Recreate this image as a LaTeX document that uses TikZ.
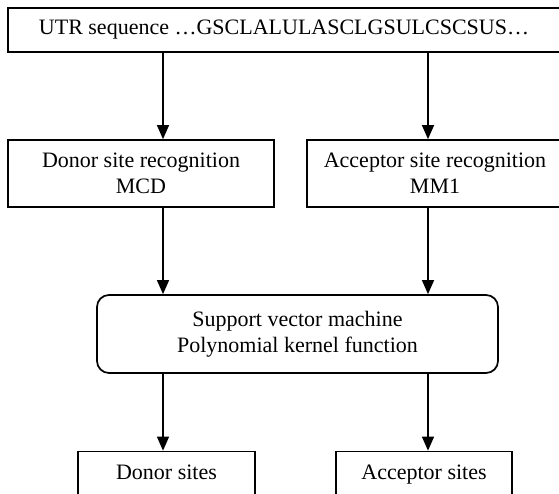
\documentclass[tikz,border=0pt]{standalone}
\usepackage{fontspec}
\setmainfont{Liberation Serif}
\usetikzlibrary{arrows.meta}
\begin{document}
\begin{tikzpicture}[x=1pt,y=1pt,
  box/.style={draw=black, line width=1.7pt, fill=white, inner sep=0pt,
    align=center, font=\fontsize{22}{26}\selectfont},
  roundbox/.style={box, rounded corners=12pt},
  outbox/.style={box, text height=15pt, text depth=5pt},
  flow/.style={draw=black, line width=1.3pt, -{Triangle[length=14pt,width=12pt]}}]
\useasboundingbox (0,0) rectangle (559,494);
\clip (0,0) rectangle (559,494);
\fill[white] (0,0) rectangle (559,494);

% input sequence
\node[box, minimum width=552pt, minimum height=44pt] (seq) at (284,464)
  {UTR sequence \dots GSCLALULASCLGSULCSCSUS\dots};

% recognition stages
\node[box, minimum width=266pt, minimum height=67pt] (don) at (141,320.5)
  {Donor site recognition\\MCD};
\node[box, minimum width=256pt, minimum height=67pt] (acc) at (435,320.5)
  {Acceptor site recognition\\MM1};

% classifier
\node[roundbox, minimum width=401pt, minimum height=78pt] (svm) at (297.5,160)
  {Support vector machine\\Polynomial kernel function};

% outputs
\node[outbox, minimum width=177pt, minimum height=46pt] (dout) at (166.5,19.5)
  {Donor sites};
\node[outbox, minimum width=176pt, minimum height=46pt] (aout) at (424,19.5)
  {Acceptor sites};

% arrow columns
\coordinate (cl) at (163,0);
\coordinate (cr) at (428,0);

\draw[flow] (seq.south -| cl) -- (don.north -| cl);
\draw[flow] (seq.south -| cr) -- (acc.north -| cr);
\draw[flow] (don.south -| cl) -- (svm.north -| cl);
\draw[flow] (acc.south -| cr) -- (svm.north -| cr);
\draw[flow] (svm.south -| cl) -- (dout.north -| cl);
\draw[flow] (svm.south -| cr) -- (aout.north -| cr);
\end{tikzpicture}
\end{document}
